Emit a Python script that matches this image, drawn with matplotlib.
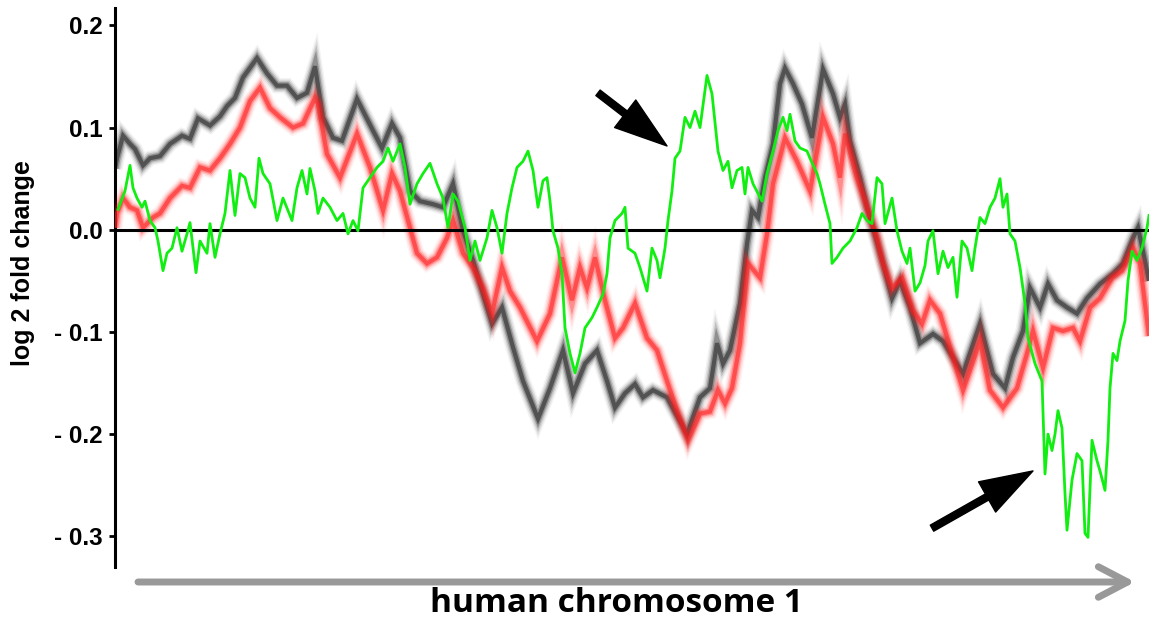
import matplotlib
matplotlib.use("Agg")
import matplotlib.pyplot as plt

# positions along chromosome 1 (arbitrary units, 0..1034) and log2 fold change
black_pos = [0, 2, 8, 15, 20, 28, 35, 45, 55, 67, 75, 83, 95, 105, 112, 120, 128, 142, 152, 162,
             172, 182, 192, 200, 208, 218, 227, 242, 258, 267, 277, 285, 295, 305, 318, 328, 338,
             348, 358, 368, 377, 387, 398, 408, 423, 435, 448, 458, 470, 482, 492, 500, 510, 520,
             528, 538, 552, 572, 585, 595, 602, 608, 615, 625, 632, 637, 643, 650, 658, 665, 670,
             678, 687, 697, 708, 718, 725, 730, 735, 745, 752, 758, 768, 777, 785, 795, 805, 818,
             828, 838, 848, 865, 878, 890, 898, 908, 915, 925, 933, 942, 952, 962, 972, 985, 998,
             1008, 1018, 1023, 1028, 1034]
black_val = [0.060, 0.070, 0.092, 0.084, 0.079, 0.063, 0.070, 0.072, 0.084, 0.092, 0.089, 0.109,
             0.102, 0.111, 0.121, 0.129, 0.149, 0.168, 0.153, 0.141, 0.141, 0.129, 0.134, 0.160,
             0.110, 0.090, 0.087, 0.128, 0.097, 0.080, 0.104, 0.090, 0.038, 0.028, 0.025, 0.022,
             0.045, -0.001, -0.030, -0.063, -0.092, -0.076, -0.115, -0.148, -0.185, -0.155,
             -0.118, -0.160, -0.131, -0.118, -0.148, -0.174, -0.160, -0.151, -0.164, -0.157,
             -0.164, -0.200, -0.164, -0.155, -0.111, -0.131, -0.118, -0.072, -0.014, 0.019,
             0.012, 0.051, 0.084, 0.143, 0.158, 0.143, 0.123, 0.090, 0.157, 0.133, 0.110, 0.123,
             0.087, 0.051, 0.022, 0.002, -0.033, -0.067, -0.050, -0.076, -0.111, -0.102, -0.109,
             -0.125, -0.141, -0.092, -0.141, -0.155, -0.125, -0.099, -0.057, -0.076, -0.053,
             -0.069, -0.076, -0.082, -0.067, -0.053, -0.043, -0.033, -0.008, 0.002, -0.021,
             -0.050]

red_pos = [0, 2, 8, 15, 22, 28, 38, 45, 55, 67, 75, 85, 95, 105, 115, 125, 135, 145, 155, 165,
           178, 188, 200, 203, 212, 225, 242, 255, 268, 277, 285, 295, 302, 312, 322, 332, 338,
           348, 358, 368, 377, 387, 395, 405, 422, 435, 447, 457, 465, 472, 480, 490, 500, 508,
           520, 532, 542, 552, 562, 573, 585, 595, 603, 610, 617, 625, 633, 645, 652, 658, 670,
           682, 695, 708, 718, 725, 730, 742, 752, 762, 768, 777, 787, 798, 807, 815, 825, 835,
           848, 865, 875, 888, 902, 912, 918, 928, 938, 948, 958, 965, 975, 985, 997, 1007, 1018,
           1025, 1034]
red_val = [0.002, 0.016, 0.031, 0.022, 0.019, 0.002, 0.012, 0.016, 0.031, 0.043, 0.041, 0.061,
           0.058, 0.070, 0.084, 0.100, 0.126, 0.139, 0.119, 0.110, 0.100, 0.104, 0.129, 0.123,
           0.074, 0.051, 0.094, 0.061, 0.019, 0.055, 0.038, 0.002, -0.023, -0.033, -0.027,
           -0.008, 0.009, -0.023, -0.037, -0.057, -0.082, -0.037, -0.060, -0.076, -0.109, -0.082,
           -0.027, -0.069, -0.037, -0.057, -0.027, -0.069, -0.106, -0.096, -0.072, -0.106,
           -0.118, -0.148, -0.177, -0.206, -0.180, -0.178, -0.157, -0.170, -0.155, -0.111,
           -0.033, -0.047, -0.004, 0.045, 0.090, 0.067, 0.038, 0.110, 0.084, 0.051, 0.094, 0.051,
           0.022, -0.008, -0.033, -0.057, -0.047, -0.079, -0.092, -0.069, -0.082, -0.115, -0.157,
           -0.109, -0.157, -0.174, -0.155, -0.121, -0.099, -0.135, -0.096, -0.099, -0.096,
           -0.109, -0.076, -0.067, -0.047, -0.040, -0.018, -0.033, -0.104]

green_pos = [3, 5, 10, 15, 18, 22, 27, 30, 35, 40, 43, 48, 52, 57, 62, 67, 72, 75, 81, 85, 92,
             95, 100, 105, 110, 115, 120, 125, 130, 135, 140, 144, 148, 155, 162, 168, 177, 182,
             187, 192, 195, 200, 203, 208, 215, 222, 228, 233, 238, 243, 248, 255, 262, 268, 273,
             278, 285, 290, 295, 302, 308, 315, 322, 328, 333, 338, 343, 350, 355, 360, 365, 372,
             377, 382, 387, 392, 397, 402, 408, 413, 418, 423, 428, 432, 435, 438, 443, 447, 450,
             455, 460, 465, 470, 477, 482, 488, 492, 495, 500, 507, 510, 513, 520, 525, 532, 537,
             542, 545, 550, 553, 557, 560, 565, 570, 575, 580, 585, 592, 597, 603, 608, 613, 617,
             622, 627, 630, 633, 638, 647, 652, 658, 663, 668, 672, 675, 680, 685, 692, 695, 702,
             705, 710, 715, 717, 722, 728, 735, 742, 747, 752, 757, 762, 767, 770, 777, 782, 787,
             792, 795, 800, 805, 810, 813, 818, 823, 828, 833, 838, 842, 847, 852, 857, 860, 865,
             870, 875, 880, 885, 888, 892, 895, 900, 905, 910, 913, 920, 927, 930, 933, 937, 940,
             943, 947, 950, 952, 957, 962, 967, 970, 973, 977, 982, 985, 990, 993, 995, 998, 1002,
             1005, 1010, 1013, 1017, 1022, 1027, 1032, 1034]
green_val = [0.020, 0.025, 0.038, 0.063, 0.041, 0.031, 0.022, 0.028, 0.009, 0.002, -0.011, -0.040,
             -0.023, -0.018, 0.002, -0.021, -0.004, 0.007, -0.042, -0.011, -0.023, 0.006, -0.027,
             -0.004, 0.016, 0.058, 0.014, 0.055, 0.051, 0.031, 0.022, 0.070, 0.055, 0.045, 0.009,
             0.031, 0.009, 0.041, 0.058, 0.035, 0.060, 0.038, 0.016, 0.031, 0.022, 0.009, 0.016,
             -0.004, 0.009, -0.001, 0.041, 0.051, 0.061, 0.067, 0.080, 0.067, 0.084, 0.061, 0.025,
             0.045, 0.055, 0.065, 0.045, 0.031, 0.002, 0.035, 0.028, 0.002, -0.030, -0.011,
             -0.030, -0.008, 0.019, 0.002, -0.023, 0.016, 0.041, 0.061, 0.067, 0.077, 0.058,
             0.022, 0.048, 0.051, 0.028, -0.001, -0.018, -0.043, -0.096, -0.121, -0.140, -0.121,
             -0.096, -0.086, -0.076, -0.063, -0.043, -0.008, 0.009, 0.016, 0.022, -0.018, -0.023,
             -0.037, -0.060, -0.018, -0.030, -0.047, -0.018, 0.009, 0.038, 0.070, 0.077, 0.110,
             0.100, 0.116, 0.100, 0.151, 0.133, 0.077, 0.058, 0.067, 0.041, 0.058, 0.061, 0.035,
             0.061, 0.045, 0.028, 0.055, 0.077, 0.097, 0.110, 0.097, 0.113, 0.087, 0.080, 0.077,
             0.070, 0.055, 0.045, 0.025, 0.006, -0.033, -0.027, -0.018, -0.011, 0.002, 0.016,
             0.009, 0.006, 0.051, 0.045, 0.006, 0.031, -0.001, -0.021, -0.033, -0.018, -0.060,
             -0.052, -0.035, -0.011, -0.001, -0.043, -0.021, -0.037, -0.027, -0.066,
             -0.011, -0.018, -0.040, -0.018, 0.012, 0.006, 0.022, 0.031, 0.050, 0.022, 0.035,
             -0.004, -0.011, -0.037, -0.072, -0.106, -0.131, -0.148, -0.239, -0.200, -0.216,
             -0.200, -0.177, -0.194, -0.258, -0.294, -0.245, -0.219, -0.226, -0.297, -0.301,
             -0.206, -0.226, -0.236, -0.255, -0.206, -0.155, -0.121, -0.128, -0.109, -0.089,
             -0.050, -0.021, -0.030, -0.018, 0.002, 0.014]

y_ticks = [0.2, 0.1, 0.0, -0.1, -0.2, -0.3]
y_tick_labels = ["0.2", "0.1", "0.0", "- 0.1", "- 0.2", "- 0.3"]


def blurred(ax, x, y, color, z):
    # soft, smeared look of the original averaged tracks
    for lw, a in [(11, 0.05), (9, 0.09), (7, 0.16), (5, 0.3), (3, 0.55)]:
        ax.plot(x, y, color=color, lw=lw, alpha=a, solid_joinstyle="miter",
                solid_capstyle="butt", zorder=z)


fig = plt.figure(figsize=(11.49, 6.2), dpi=100)
ax = fig.add_axes([115 / 1149, 1 - 567 / 620, 1 - 115 / 1149, 559 / 620])

blurred(ax, black_pos, black_val, "#202020", 2)
blurred(ax, red_pos, red_val, "#ff1a1a", 3)
ax.axhline(0, color="black", lw=2.2, zorder=4)
ax.plot(green_pos, green_val, color="#11ee11", lw=2.0, zorder=5)

ax.set_xlim(0, 1034)
ax.set_ylim(-0.330, 0.217)
ax.set_yticks(y_ticks)
ax.set_yticklabels(y_tick_labels, fontsize=17.5, fontweight="bold", family="Liberation Sans")
ax.tick_params(axis="y", length=4, width=2, pad=5)
ax.set_xticks([])
for s in ["top", "right", "bottom"]:
    ax.spines[s].set_visible(False)
ax.spines["left"].set_linewidth(2.2)

arrow_style = "simple,head_length=3.8,head_width=2.5,tail_width=0.5"
ax.annotate("", xy=(552, 0.082), xytext=(483, 0.134),
            arrowprops=dict(arrowstyle=arrow_style, color="black", mutation_scale=10,
                            shrinkA=0, shrinkB=0), zorder=6)
ax.annotate("", xy=(918, -0.236), xytext=(817, -0.292),
            arrowprops=dict(arrowstyle=arrow_style, color="black", mutation_scale=10,
                            shrinkA=0, shrinkB=0), zorder=6)

fig.text(0.020, 1 - 263 / 620, "log 2 fold change", rotation=90, ha="center", va="center",
         fontsize=18, fontweight="bold", family="Liberation Sans")

fig.patches.append(matplotlib.patches.FancyArrowPatch(
    (138 / 1149, 1 - 582 / 620), (1135 / 1149, 1 - 582 / 620),
    transform=fig.transFigure, arrowstyle="->,head_length=2.1,head_width=1.1",
    mutation_scale=10, color="#999999", lw=5, shrinkA=0, shrinkB=0))

fig.text(616 / 1149, 1 - 612 / 620, "human chromosome 1", ha="center", va="baseline",
         fontsize=24, fontweight="bold", family="Open Sans")

fig.savefig("out.png", dpi=100)
